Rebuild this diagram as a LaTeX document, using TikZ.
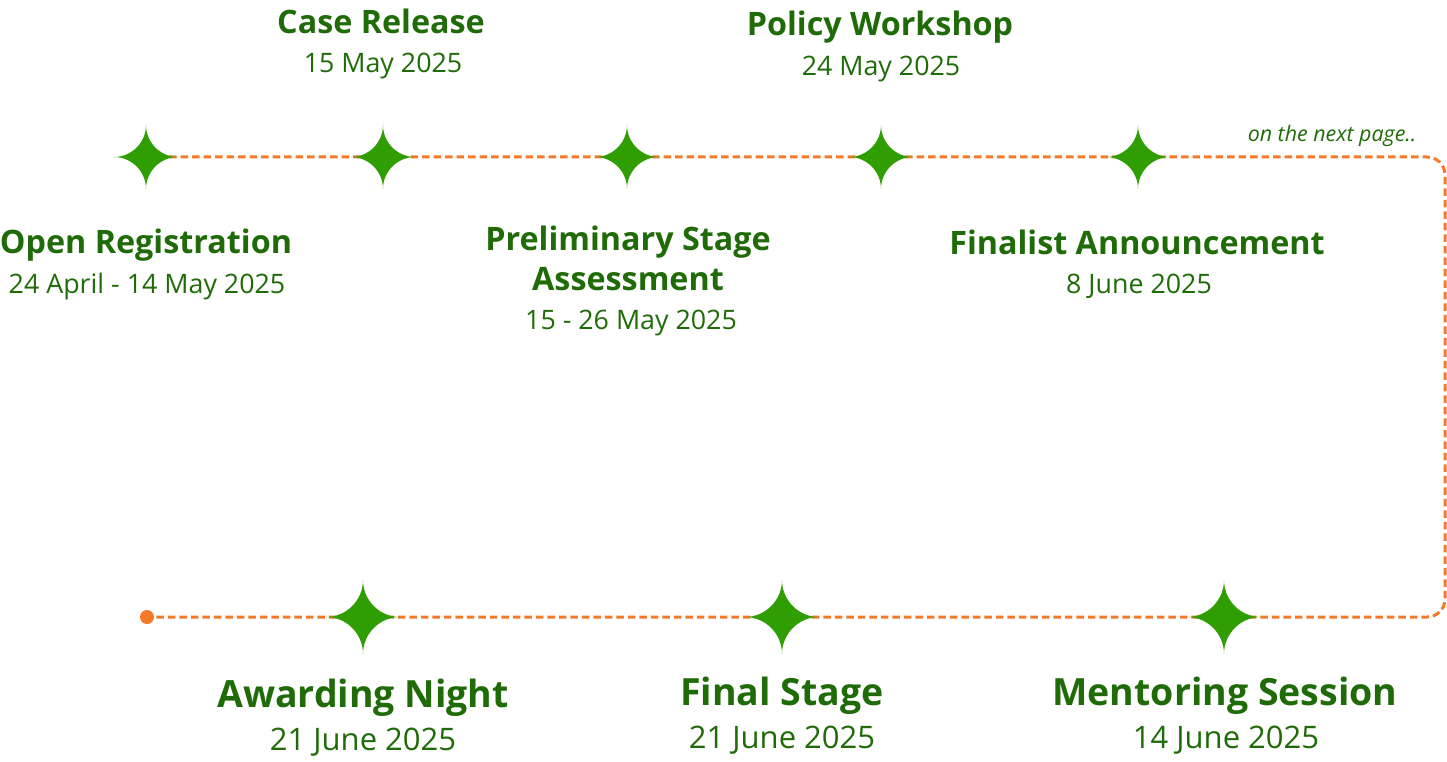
\documentclass[tikz,border=0pt]{standalone}
\usepackage{fontspec}
\setmainfont{Open Sans}
\definecolor{tgreen}{HTML}{1E6B08}
\definecolor{sgreen}{HTML}{2E9E02}
\definecolor{lorange}{HTML}{F47A2A}
\tikzset{
  title/.style={anchor=base, text=tgreen, font=\bfseries\fontsize{32.3}{36}\selectfont, inner sep=0pt},
  bigtitle/.style={anchor=base, text=tgreen, font=\bfseries\fontsize{37.5}{42}\selectfont, inner sep=0pt},
  datetxt/.style={anchor=base, text=tgreen, font=\fontsize{26.8}{30}\selectfont, inner sep=0pt},
  bigdate/.style={anchor=base, text=tgreen, font=\fontsize{31}{36}\selectfont, inner sep=0pt},
  pathline/.style={draw=lorange, line width=3pt, dash pattern=on 7.5pt off 4pt, rounded corners=18pt},
}
\newcommand{\sparkle}[4]{% name, x, y, halfsize
  \coordinate (#1) at (#2,#3);
  \fill[sgreen] (#2,#3-#4) .. controls (#2,#3-0.45*#4) and (#2+0.45*#4,#3) .. (#2+#4,#3)
    .. controls (#2+0.45*#4,#3) and (#2,#3+0.45*#4) .. (#2,#3+#4)
    .. controls (#2,#3+0.45*#4) and (#2-0.45*#4,#3) .. (#2-#4,#3)
    .. controls (#2-0.45*#4,#3) and (#2,#3-0.45*#4) .. cycle;
}
\begin{document}
\begin{tikzpicture}[x=1pt,y=-1pt]
\useasboundingbox (0,0) rectangle (1447,762);
% path
\coordinate (s1) at (146,157);
\coordinate (cTR) at (1445,157);
\coordinate (cBR) at (1445,617);
\coordinate (dot) at (147,617);
\draw[pathline] (s1) -- (cTR) -- (cBR) -- (dot);
\fill[lorange] (dot) circle (7);
% stars
\sparkle{s1}{146}{157}{32}
\sparkle{s2}{383}{157}{32}
\sparkle{s3}{627}{157}{32}
\sparkle{s4}{881}{157}{32}
\sparkle{s5}{1138}{157}{32}
\sparkle{b1}{363}{617}{37}
\sparkle{b2}{782}{617}{37}
\sparkle{b3}{1224}{617}{37}
% texts top row
\node[title] (t2) at (381,34) {Case Release};
\node[datetxt] (d2) at (383,73) {15 May 2025};
\node[title] (t4) at (880,36) {Policy Workshop};
\node[datetxt] (d4) at (881,76) {24 May 2025};
\node[title] (t1) at (146,253) {Open Registration};
\node[datetxt] (d1) at (147,293) {24 April - 14 May 2025};
\node[title] (t3a) at (628,250) {Preliminary Stage};
\node[title] (t3b) at (628,290) {Assessment};
\node[datetxt] (d3) at (631,329) {15 - 26 May 2025};
\node[title] (t5) at (1137,254) {Finalist Announcement};
\node[datetxt] (d5) at (1139,293) {8 June 2025};
\node[anchor=base, text=tgreen, font=\itshape\fontsize{21.4}{24}\selectfont, inner sep=0pt] (np) at (1332,142) {on the next page..};
% bottom row
\node[bigtitle] (bt1) at (363,707) {Awarding Night};
\node[bigdate] (bd1) at (363,750) {21 June 2025};
\node[bigtitle] (bt2) at (782,705) {Final Stage};
\node[bigdate] (bd2) at (782,748) {21 June 2025};
\node[bigtitle] (bt3) at (1225,705) {Mentoring Session};
\node[bigdate] (bd3) at (1226,748) {14 June 2025};
\end{tikzpicture}
\end{document}
